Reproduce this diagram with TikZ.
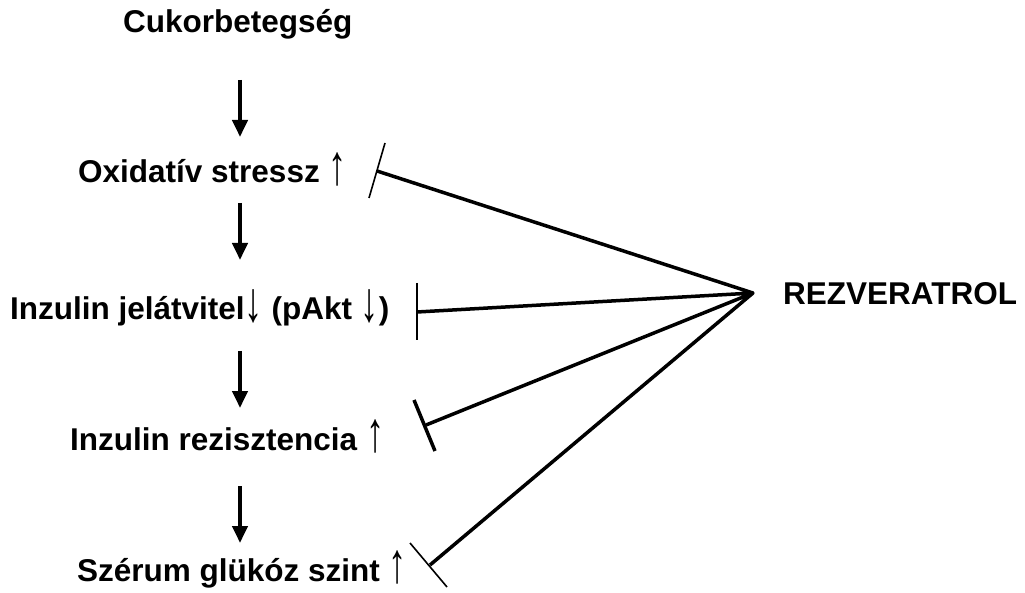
\documentclass[tikz,border=0pt]{standalone}
\usepackage{fontspec}
\setmainfont{Liberation Sans}
\usetikzlibrary{arrows.meta}
\newfontfamily\arrowfont{Liberation Sans}
\newcommand{\up}{{\mdseries\arrowfont\raisebox{-0.04em}{\scalebox{1.15}[1.8]{↑}}}}
\newcommand{\dn}{{\mdseries\arrowfont\raisebox{-0.06em}{\scalebox{1.15}[1.8]{↓}}}}
\begin{document}
\begin{tikzpicture}[x=1pt,y=-1pt,
  lbl/.style={inner sep=0pt, anchor=base west, font=\fontsize{31.5}{36}\selectfont\bfseries},
  causes/.style={line width=4pt, -{Triangle[width=15pt,length=17pt]}},
  inhib/.style={line width=3.5pt},
  thinbar/.style={line width=1.6pt},
  thickbar/.style={line width=3.5pt}]
\useasboundingbox (0,0) rectangle (1025,593);

% pathway steps
\node[lbl] (dm)  at (123,33)  {Cukorbetegség};
\node[lbl] (ox)  at (78,183)  {Oxidatív stressz \up};
\node[lbl] (ins) at (10,320)  {Inzulin jelátvitel\dn{} (pAkt \dn)};
\node[lbl] (ir)  at (70,450)  {Inzulin rezisztencia \up};
\node[lbl] (glu) at (77,581)  {Szérum glükóz szint \up};
\node[lbl] (rez) at (783,305) {REZVERATROL};

% arrow anchor points between the steps
\coordinate (a1s) at (240,80);  \coordinate (a1e) at (240,137);
\coordinate (a2s) at (240,203); \coordinate (a2e) at (240,260);
\coordinate (a3s) at (240,351); \coordinate (a3e) at (240,408);
\coordinate (a4s) at (240,486); \coordinate (a4e) at (240,543);

\draw[causes] (a1s) -- (a1e);
\draw[causes] (a2s) -- (a2e);
\draw[causes] (a3s) -- (a3e);
\draw[causes] (a4s) -- (a4e);

% inhibition lines from resveratrol
\coordinate (hub) at (753,293);
\coordinate (t1) at (377,171);
\coordinate (t2) at (417,312);
\coordinate (t3) at (426,425);
\coordinate (t4) at (430,565);

\draw[inhib, line join=round] (t1) -- (hub) -- (t2) (hub) -- (t3) (hub) -- (t4);

% blocking bars
\coordinate (b1a) at (385,143); \coordinate (b1b) at (369,198);
\coordinate (b2a) at (417,283); \coordinate (b2b) at (417,340);
\coordinate (b3a) at (414,400); \coordinate (b3b) at (435,451);
\coordinate (b4a) at (410,543); \coordinate (b4b) at (447,587);
\draw[thinbar]  (b1a) -- (b1b);
\draw[thinbar]  (b2a) -- (b2b);
\draw[thickbar] (b3a) -- (b3b);
\draw[thinbar]  (b4a) -- (b4b);
\end{tikzpicture}
\end{document}
